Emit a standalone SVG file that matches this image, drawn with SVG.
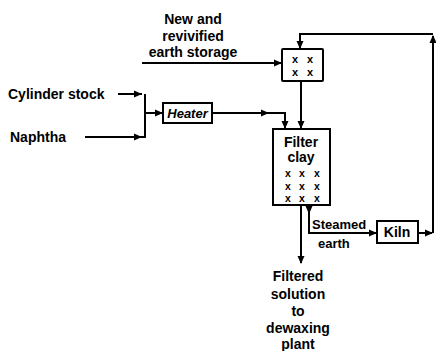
<svg xmlns="http://www.w3.org/2000/svg" width="436" height="351" viewBox="0 0 436 351">
<style>
text{font-family:"Liberation Sans",Arial,sans-serif;font-weight:bold;font-size:14px;fill:#000}
.c{text-anchor:middle}
.box{fill:#fff;stroke:#000;stroke-width:2}
.ln{fill:none;stroke:#000;stroke-width:2}
.xs{font-size:11px}
.xf{font-size:10.5px}
</style>
<defs>
<marker id="ah" markerWidth="8" markerHeight="8" refX="7" refY="4" orient="auto" markerUnits="userSpaceOnUse">
<path d="M0,0.5 L8,4 L0,7.5 Z" fill="#000"/>
</marker>
</defs>
<rect width="436" height="351" fill="#fff"/>
<g id="connectors">
<path class="ln" d="M142,63 L281,63" marker-end="url(#ah)"/>
<path class="ln" d="M118,94 L142,94"/>
<path class="ln" d="M126,94 L141,94" marker-end="url(#ah)"/>
<path class="ln" d="M85,137 L145,137 L145,94"/>
<path class="ln" d="M100,137 L141,137" marker-end="url(#ah)"/>
<path class="ln" d="M145,113 L162,113" marker-end="url(#ah)"/>
<path class="ln" d="M212,113 L285,113 L285,128" marker-end="url(#ah)"/>
<path class="ln" d="M240,113 L268,113" marker-end="url(#ah)"/>
<path class="ln" d="M301,81 L301,128" marker-end="url(#ah)"/>
<path class="ln" d="M301,205 L301,263" marker-end="url(#ah)"/>
<path class="ln" d="M309,206 L309,213" marker-end="url(#ah)"/>
<path class="ln" d="M309,210 L309,233 L376,233" marker-end="url(#ah)"/>
<path class="ln" d="M418,233 L432,233" marker-end="url(#ah)"/>
<path class="ln" d="M433,233 L433,36" marker-end="url(#ah)"/>
<path class="ln" d="M433,34 L300,34 L300,48" marker-end="url(#ah)"/>
</g>
<g id="storage">
<text class="c" x="193" y="24">New and</text>
<text class="c" x="193" y="41">revivified</text>
<text class="c" x="193" y="57">earth storage</text>
<rect class="box" x="282" y="49" width="41" height="32" rx="1"/>
<text class="c xs"><tspan x="295" y="63">x</tspan><tspan x="310" y="63">x</tspan></text>
<text class="c xs"><tspan x="295" y="76">x</tspan><tspan x="310" y="76">x</tspan></text>
</g>
<g id="cylinder">
<text x="8" y="99">Cylinder stock</text>
</g>
<g id="naphtha">
<text x="10" y="142">Naphtha</text>
</g>
<g id="heater">
<rect class="box" x="163" y="103" width="49" height="20"/>
<text class="c" x="187.5" y="118" style="font-style:italic;font-size:13px">Heater</text>
</g>
<g id="filter">
<rect class="box" x="273" y="129" width="57" height="76"/>
<text class="c" x="301" y="147">Filter</text>
<text class="c" x="301" y="162">clay</text>
<text class="c xf"><tspan x="288" y="177">x</tspan><tspan x="302" y="177">x</tspan><tspan x="317" y="177">x</tspan></text>
<text class="c xf"><tspan x="288" y="189.5">x</tspan><tspan x="302" y="189.5">x</tspan><tspan x="317" y="189.5">x</tspan></text>
<text class="c xf"><tspan x="288" y="202">x</tspan><tspan x="302" y="202">x</tspan><tspan x="317" y="202">x</tspan></text>
</g>
<g id="steamed">
<text x="312" y="229" style="font-size:13px">Steamed</text>
<text x="318" y="248" style="font-size:13px">earth</text>
</g>
<g id="kiln">
<rect class="box" x="377" y="221" width="41" height="22"/>
<text class="c" x="397" y="237">Kiln</text>
</g>
<g id="output">
<text class="c" x="298" y="281">Filtered</text>
<text class="c" x="298" y="299">solution</text>
<text class="c" x="298" y="316">to</text>
<text class="c" x="298" y="333">dewaxing</text>
<text class="c" x="298" y="349">plant</text>
</g>
</svg>
